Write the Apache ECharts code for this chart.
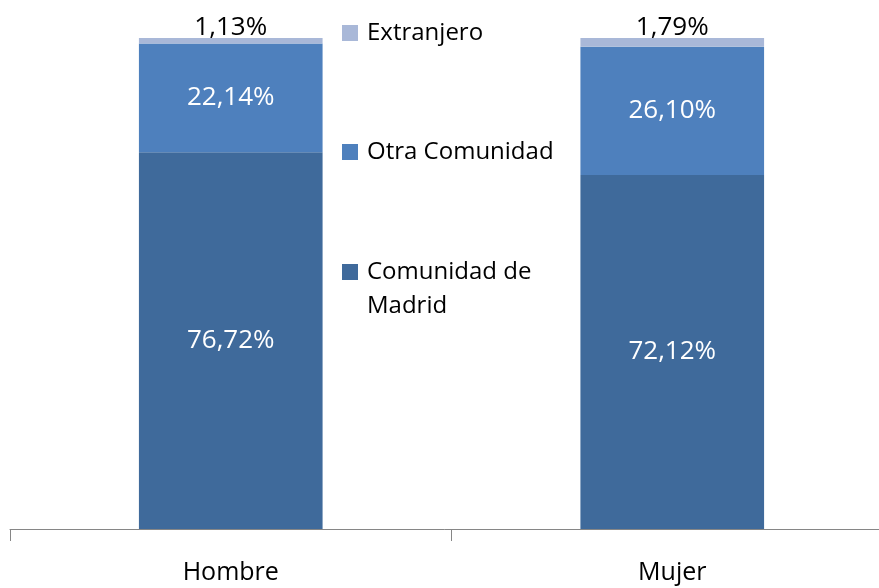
<!DOCTYPE html>
<html>
<head>
<meta charset="utf-8">
<script src="https://cdn.jsdelivr.net/npm/echarts@6/dist/echarts.min.js"></script>
<style>
  html, body { margin: 0; padding: 0; background: #fff; }
  #chart { width: 879px; height: 588px; }
</style>
</head>
<body>
<div id="chart"></div>
<script>
  // datos (porcentajes)
  var categorias = ['Hombre', 'Mujer'];
  var comunidadMadrid = [76.72, 72.12];
  var otraComunidad = [22.14, 26.10];
  var extranjero = [1.13, 1.79];

  var fuente = '"Open Sans", "Noto Sans", sans-serif';

  function pct(v) {
    return v.toFixed(2).replace('.', ',') + '%';
  }

  var leyendaTexto = { fontFamily: fuente, fontSize: 24, color: '#000', padding: [0, 0, 0, 4] };

  var chart = echarts.init(document.getElementById('chart'));

  chart.setOption({
    animation: false,
    // la segunda categoria sigue mas alla del borde derecho
    grid: { left: 10, right: -14, top: 38, bottom: 59, outerBoundsMode: 'none' },
    legend: [
      {
        data: ['Extranjero'], icon: 'rect',
        left: 342, top: 21, padding: 0,
        itemWidth: 16, itemHeight: 16, itemGap: 0,
        textStyle: leyendaTexto
      },
      {
        data: ['Otra Comunidad'], icon: 'rect',
        left: 342, top: 140, padding: 0,
        itemWidth: 16, itemHeight: 16,
        textStyle: leyendaTexto
      },
      {
        data: ['Comunidad de Madrid'], icon: 'rect',
        left: 342, top: 221, padding: 0,
        itemWidth: 16, itemHeight: 16,
        // linea vacia arriba para que el icono quede a la altura de la primera linea
        formatter: function () { return '{e| }\n{a|Comunidad de}\n{a|Madrid}'; },
        textStyle: {
          fontFamily: fuente, fontSize: 24, color: '#000',
          rich: {
            e: { fontFamily: fuente, fontSize: 24, lineHeight: 34, height: 34 },
            a: { fontFamily: fuente, fontSize: 24, color: '#000', lineHeight: 34, height: 34, padding: [0, 0, 0, 4] }
          }
        }
      }
    ],
    xAxis: {
      type: 'category',
      data: categorias,
      axisLine: { lineStyle: { color: '#868686', width: 1 } },
      axisTick: { show: true, length: 12, lineStyle: { color: '#868686' } },
      axisLabel: { fontFamily: fuente, fontSize: 25, color: '#000', margin: 31 }
    },
    yAxis: {
      type: 'value', min: 0, max: 100, show: false,
      splitLine: { show: false }
    },
    series: [
      {
        name: 'Comunidad de Madrid', type: 'bar', stack: 'total',
        data: comunidadMadrid, barWidth: '41.6%',
        itemStyle: { color: '#3f6a9b' },
        label: { show: true, position: 'inside', color: '#fff', fontFamily: fuente, fontSize: 26,
          formatter: function (p) { return pct(p.value); } }
      },
      {
        name: 'Otra Comunidad', type: 'bar', stack: 'total',
        data: otraComunidad,
        itemStyle: { color: '#4e80bd' },
        label: { show: true, position: 'inside', color: '#fff', fontFamily: fuente, fontSize: 26,
          formatter: function (p) { return pct(p.value); } }
      },
      {
        name: 'Extranjero', type: 'bar', stack: 'total',
        data: extranjero,
        itemStyle: { color: '#a9b8d8' },
        label: { show: true, position: 'top', distance: -3, color: '#000', fontFamily: fuente, fontSize: 26,
          formatter: function (p) { return pct(p.value); } }
      }
    ]
  });
</script>
</body>
</html>
